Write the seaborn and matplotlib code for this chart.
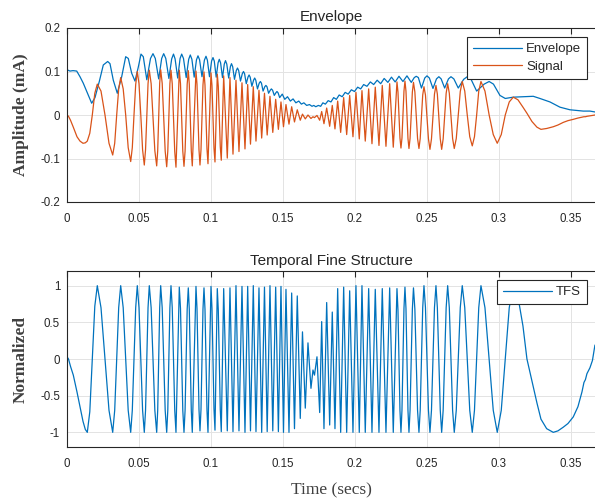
import pandas as pd
import matplotlib.pyplot as plt
import seaborn as sns

# time points (ms); shared by the TFS and the signal trace
t_osc_ms = [
    0.0, 1.04, 2.43, 4.38, 6.94, 9.03, 11.11, 12.71, 14.10, 15.83,
    17.57, 19.31, 21.04, 23.61, 26.39, 29.17, 31.74, 33.13, 34.51, 35.90,
    37.29, 39.03, 40.76, 42.50, 44.24, 45.35, 46.53, 47.71, 48.82, 50.00,
    51.25, 52.50, 53.68,
    54.55, 56.28, 57.15, 58.44, 61.01, 62.29, 62.99, 64.38, 65.07, 66.11,
    68.19, 69.24, 70.00, 71.46, 72.22, 73.09, 74.83, 75.69, 77.99, 78.82,
    80.42, 81.25, 82.01, 83.47, 84.24, 84.93, 86.32, 87.01, 89.58, 90.28,
    91.67, 92.36, 93.06, 94.44, 95.14, 95.83, 97.22, 97.92, 100.00, 100.69,
    102.08, 102.78, 104.38, 105.07, 106.46, 107.15, 108.82, 111.32, 113.19, 115.28,
    117.36, 119.44, 121.53, 123.61, 125.49, 127.43, 129.38, 131.25, 133.33, 135.21,
    137.15, 139.03, 140.97, 142.92, 144.93, 146.81, 148.61, 150.35, 152.08, 154.17,
    156.04, 157.99, 159.93, 162.01,
    163.54, 165.49, 167.36, 169.44, 170.83, 171.88, 173.61, 175.49, 176.88, 178.47,
    180.35, 182.43, 184.24, 186.11, 187.99, 190.07, 192.15, 194.24, 196.32, 198.61,
    200.69, 202.99, 204.86, 207.15, 209.51, 211.81, 214.10, 216.67, 218.96, 221.53,
    224.10, 226.60, 229.17, 229.86, 231.25, 231.94, 232.64, 234.03, 234.72, 235.42,
    236.81, 237.50, 238.26, 239.86, 240.63, 241.60, 243.47, 244.44, 245.31, 247.05,
    247.92, 248.96, 251.04, 252.08, 253.13, 255.21, 256.25, 257.22, 259.24, 260.21,
    261.25, 263.33, 264.38, 265.52, 267.81, 268.96, 270.35, 273.13, 274.51, 276.25,
    277.99, 279.72, 281.46, 282.99, 284.51, 285.97, 287.50, 290.28, 293.19, 296.04,
    298.82, 301.60, 304.38, 307.15, 309.93, 313.19, 316.67, 319.44, 322.92, 326.39,
    329.17, 333.13, 337.71, 340.97, 344.65, 347.92, 351.60, 354.86, 357.64, 359.03,
    360.07, 361.11, 363.19, 364.93, 366.67,
]

tfs = [
    0.03, 0.0, -0.10, -0.22, -0.45, -0.65, -0.85, -0.96, -1.0, -0.72,
    0.0, 0.72, 1.0, 0.70, 0.0, -0.70, -1.0, -0.70, 0.0, 0.70,
    1.0, 0.70, 0.0, -0.70, -1.0, -0.70, 0.0, 0.70, 1.0, 0.70,
    0.0, -0.70, -1.0,
    -0.70, 0.70, 1.0, 0.70, -0.70, -1.0, -0.70, 0.70, 1.0, 0.70,
    -0.70, -1.0, -0.70, 0.70, 1.0, 0.70, -0.70, -1.0, 0.98, 0.69,
    -0.70, -1.0, -0.70, 0.68, 0.97, 0.68, -0.70, -1.0, 0.99, 0.69,
    -0.69, -0.98, -0.69, 0.68, 0.97, 0.68, -0.70, -1.0, 0.99, 0.69,
    -0.68, -0.97, 0.96, 0.67, -0.69, -0.99, 0.96, -0.98, 0.97, -0.99,
    1.0, -0.98, 0.99, -1.0, 0.99, -0.98, 1.0, -0.99, 0.97, -1.0,
    0.98, -0.99, 1.0, -0.98, 0.98, -0.99, 0.99, -1.0, 0.95, -1.0,
    0.90, -0.95, 0.86, -0.81,
    0.37, -0.67, 0.22, -0.40, -0.15, -0.22, 0.03, -0.73, 0.51, -0.95,
    0.77, -0.90, 0.64, -0.95, 0.96, -1.0, 0.98, -1.0, 0.93, -1.0,
    1.0, -1.0, 1.0, -1.0, 0.96, -1.0, 0.95, -1.0, 0.96, -1.0,
    0.97, -1.0, 0.96, 0.67, -0.70, -1.0, -0.70, 0.69, 0.98, 0.69,
    -0.70, -1.0, -0.70, 0.68, 0.97, 0.68, -0.70, -1.0, -0.70, 0.70,
    1.0, 0.70, -0.70, -1.0, -0.70, 0.70, 1.0, 0.70, -0.70, -1.0,
    -0.70, 0.70, 1.0, 0.70, -0.70, -1.0, -0.70, 0.70, 1.0, 0.70,
    0.0, -0.70, -1.0, -0.70, 0.0, 0.70, 1.0, 0.70, 0.0, -0.70,
    -1.0, -0.70, 0.0, 0.70, 1.0, 0.85, 0.45, 0.0, -0.30, -0.60,
    -0.82, -0.95, -1.0, -0.98, -0.93, -0.88, -0.79, -0.65, -0.45, -0.32,
    -0.28, -0.20, -0.12, -0.02, 0.19,
]

signal = [
    0.0, -0.003, -0.012, -0.028, -0.05, -0.06, -0.065, -0.064, -0.06, -0.042,
    0.0, 0.05, 0.071, 0.055, 0.0, -0.065, -0.092, -0.065, 0.0, 0.06,
    0.086, 0.06, 0.0, -0.075, -0.107, -0.075, 0.0, 0.07, 0.1, 0.072,
    0.0, -0.08, -0.115,
    -0.08, 0.072, 0.103, 0.072, -0.082, -0.117, -0.082, 0.073, 0.104, 0.073,
    -0.083, -0.119, -0.083, 0.072, 0.103, 0.072, -0.084, -0.12, 0.103, 0.072,
    -0.083, -0.118, -0.083, 0.071, 0.102, 0.071, -0.082, -0.117, 0.101, 0.071,
    -0.08, -0.115, -0.08, 0.069, 0.099, 0.069, -0.078, -0.112, 0.097, 0.068,
    -0.076, -0.108, 0.094, 0.066, -0.073, -0.104, 0.09, -0.099, 0.086, -0.09,
    0.08, -0.084, 0.074, -0.078, 0.07, -0.067, 0.065, -0.06, 0.057, -0.053,
    0.05, -0.046, 0.043, -0.04, 0.036, -0.033, 0.03, -0.027, 0.024, -0.021,
    0.019, -0.016, 0.012, -0.012,
    0.002, -0.009, 0.0, -0.008, -0.004, -0.006, -0.001, -0.012, 0.008, -0.02,
    0.016, -0.026, 0.022, -0.032, 0.032, -0.04, 0.04, -0.045, 0.045, -0.05,
    0.052, -0.055, 0.056, -0.06, 0.06, -0.066, 0.064, -0.07, 0.068, -0.072,
    0.072, -0.074, 0.076, 0.053, -0.053, -0.076, -0.053, 0.055, 0.078, 0.055,
    -0.054, -0.077, -0.054, 0.053, 0.075, 0.053, -0.054, -0.077, -0.054, 0.046,
    0.065, 0.046, -0.055, -0.079, -0.055, 0.048, 0.068, 0.048, -0.055, -0.079,
    -0.055, 0.05, 0.072, 0.05, -0.054, -0.077, -0.054, 0.054, 0.077, 0.055,
    0.0, -0.05, -0.071, -0.05, 0.0, 0.055, 0.077, 0.055, 0.0, -0.045,
    -0.065, -0.045, 0.0, 0.03, 0.041, 0.035, 0.018, 0.004, -0.015, -0.028,
    -0.033, -0.031, -0.027, -0.023, -0.017, -0.013, -0.01, -0.007, -0.005, -0.004,
    -0.004, -0.003, -0.002, -0.001, 0.0,
]

# envelope ripple points (ms, mA)
t_env_ms = [
    0.0, 2.08, 4.17, 6.74, 9.03, 11.32, 14.79, 17.15, 19.44, 22.43,
    25.21, 28.26, 29.86, 32.15, 34.93, 37.99, 40.76, 42.57, 44.93, 47.22,
    49.51, 51.39, 52.99, 55.42, 57.99, 59.72, 61.32, 63.68, 65.76, 67.15,
    68.61, 70.76, 72.71, 73.96, 75.07, 76.88, 78.54, 79.65, 80.90, 82.78,
    84.51, 85.63, 86.74, 88.33, 89.93, 90.97, 92.08, 93.75, 95.42, 96.53,
    97.50, 98.96, 100.42, 101.39, 102.29, 103.61, 104.93, 105.76, 106.67, 107.99,
    109.24, 110.07, 110.97, 112.29, 113.47, 114.24, 115.07, 116.32, 117.57, 118.40,
    119.24, 120.49, 121.74, 122.57, 123.33, 124.51, 125.69, 126.46, 127.22, 128.40,
    129.58, 130.35, 131.11, 132.29, 133.47, 134.31, 135.07, 136.18, 137.36, 138.13,
    138.89, 140.00, 141.18, 141.94, 142.78, 143.96, 145.07, 145.83, 146.60, 147.71,
    149.51, 151.25, 153.13, 155.14, 157.01, 158.96, 160.97, 162.78, 164.51, 166.46,
    168.40, 170.14, 171.39, 172.78, 174.58, 176.18, 177.71, 179.44, 181.39, 183.33,
    185.21, 187.08, 189.03, 191.11, 193.19, 195.28, 197.50, 199.65, 201.88, 203.96,
    206.04, 208.33, 210.69, 212.99, 215.42, 217.85, 220.28, 222.85, 225.35, 227.92,
    230.56, 233.33, 236.11, 239.10, 241.18, 242.57, 244.03, 246.18, 248.47, 250.00,
    251.67, 254.17, 256.60, 258.26, 259.86, 262.29, 264.93, 266.67, 268.68, 271.74,
    275.49, 277.99, 280.63, 284.51, 289.72, 293.19, 296.18, 300.69, 304.38, 309.93,
    316.88, 323.82, 328.47, 335.42, 342.36, 349.31, 358.54, 363.19, 366.67,
]

envelope = [
    0.104, 0.101, 0.102, 0.101, 0.088, 0.073, 0.046, 0.027, 0.04, 0.077,
    0.115, 0.123, 0.118, 0.08, 0.05, 0.088, 0.134, 0.13, 0.096, 0.078,
    0.11, 0.14, 0.134, 0.081, 0.13, 0.141, 0.13, 0.083, 0.13, 0.141,
    0.13, 0.084, 0.129, 0.14, 0.129, 0.085, 0.13, 0.14, 0.13, 0.086,
    0.128, 0.138, 0.128, 0.087, 0.127, 0.136, 0.127, 0.088, 0.126, 0.135,
    0.126, 0.088, 0.124, 0.132, 0.124, 0.087, 0.12, 0.128, 0.12, 0.086,
    0.117, 0.125, 0.117, 0.085, 0.111, 0.118, 0.111, 0.082, 0.102, 0.108,
    0.102, 0.078, 0.095, 0.1, 0.095, 0.072, 0.087, 0.092, 0.087, 0.066,
    0.08, 0.085, 0.08, 0.06, 0.073, 0.077, 0.073, 0.055, 0.065, 0.068,
    0.065, 0.05, 0.057, 0.06, 0.057, 0.045, 0.051, 0.054, 0.051, 0.04,
    0.048, 0.036, 0.042, 0.032, 0.037, 0.028, 0.032, 0.025, 0.028, 0.022,
    0.024, 0.02, 0.022, 0.019, 0.022, 0.02, 0.028, 0.025, 0.033, 0.03,
    0.04, 0.036, 0.046, 0.042, 0.052, 0.048, 0.058, 0.054, 0.064, 0.06,
    0.07, 0.066, 0.076, 0.07, 0.08, 0.072, 0.084, 0.075, 0.087, 0.076,
    0.089, 0.077, 0.09, 0.075, 0.086, 0.089, 0.086, 0.062, 0.085, 0.09,
    0.085, 0.061, 0.083, 0.088, 0.083, 0.062, 0.083, 0.088, 0.083, 0.062,
    0.082, 0.088, 0.082, 0.055, 0.071, 0.077, 0.071, 0.045, 0.038, 0.041,
    0.042, 0.043, 0.038, 0.03, 0.018, 0.012, 0.009, 0.009, 0.007,
]

x_ticks = [0, 0.05, 0.1, 0.15, 0.2, 0.25, 0.3, 0.35]
x_ticklabels = ['0', '0.05', '0.1', '0.15', '0.2', '0.25', '0.3', '0.35']
amp_ticks = [-0.2, -0.1, 0, 0.1, 0.2]
amp_ticklabels = ['-0.2', '-0.1', '0', '0.1', '0.2']
norm_ticks = [-1, -0.5, 0, 0.5, 1]
norm_ticklabels = ['-1', '-0.5', '0', '0.5', '1']

df_osc = pd.DataFrame({'t': t_osc_ms, 'tfs': tfs, 'signal': signal})
df_osc['t'] = df_osc['t'] / 1000.0
df_env = pd.DataFrame({'t': t_env_ms, 'envelope': envelope})
df_env['t'] = df_env['t'] / 1000.0

BLUE = '#0072BD'
ORANGE = '#D95319'
DARK = '#262626'

sns.set_theme(style="whitegrid")
plt.rcParams['font.family'] = ['Liberation Sans', 'DejaVu Sans']

fig = plt.figure(figsize=(5.95, 4.99), dpi=100)
ax1 = fig.add_axes([67 / 595, 1 - 202 / 499, 529 / 595, 174 / 499])
ax2 = fig.add_axes([67 / 595, 1 - 447 / 499, 529 / 595, 176 / 499])

sns.lineplot(data=df_env, x='t', y='envelope', ax=ax1, sort=False, estimator=None,
             color=BLUE, linewidth=0.9, label='Envelope')
sns.lineplot(data=df_osc, x='t', y='signal', ax=ax1, sort=False, estimator=None,
             color=ORANGE, linewidth=0.9, label='Signal')
sns.lineplot(data=df_osc, x='t', y='tfs', ax=ax2, sort=False, estimator=None,
             color=BLUE, linewidth=0.9, label='TFS')

label_font = dict(family=['Liberation Serif', 'DejaVu Serif'], fontsize=12.5, color='#404040')

for ax, yt, ytl, ylim in [(ax1, amp_ticks, amp_ticklabels, (-0.2, 0.2)),
                          (ax2, norm_ticks, norm_ticklabels, (-1.2, 1.2))]:
    ax.set_facecolor('white')
    ax.set_xlim(0, 0.3674)
    ax.set_ylim(*ylim)
    ax.set_xticks(x_ticks)
    ax.set_xticklabels(x_ticklabels)
    ax.set_yticks(yt)
    ax.set_yticklabels(ytl)
    ax.tick_params(axis='both', direction='in', length=4, width=0.8, colors=DARK,
                   labelsize=8.3, labelcolor=DARK, top=True, right=False)
    ax.tick_params(axis='x', pad=8)
    ax.tick_params(axis='y', pad=5)
    ax.grid(True, color='#e3e3e3', linewidth=0.7)
    for side in ['left', 'bottom', 'top']:
        ax.spines[side].set_color(DARK)
        ax.spines[side].set_linewidth(0.8)
    ax.spines['right'].set_visible(False)
    ax.set_xlabel('')

ax1.set_title('Envelope', fontsize=11, color=DARK, pad=5)
ax2.set_title('Temporal Fine Structure', fontsize=11, color=DARK, pad=4)
ax1.set_ylabel('Amplitude (mA)', fontweight='bold', labelpad=8, **label_font)
ax2.set_ylabel('Normalized', fontweight='bold', labelpad=8, **label_font)
ax2.set_xlabel('Time (secs)', labelpad=9, **label_font)

leg_kw = dict(loc='upper right', borderaxespad=0, fancybox=False, framealpha=1,
              edgecolor=DARK, fontsize=9.5, handlelength=3.7, handletextpad=0.3,
              borderpad=0.45, labelspacing=0.4)
leg1 = ax1.legend(bbox_to_anchor=(0.983, 0.948), **leg_kw)
leg1.get_frame().set_linewidth(0.8)
leg2 = ax2.legend(bbox_to_anchor=(0.983, 0.949), **leg_kw)
leg2.get_frame().set_linewidth(0.8)

fig.savefig('out.png', dpi=100)
